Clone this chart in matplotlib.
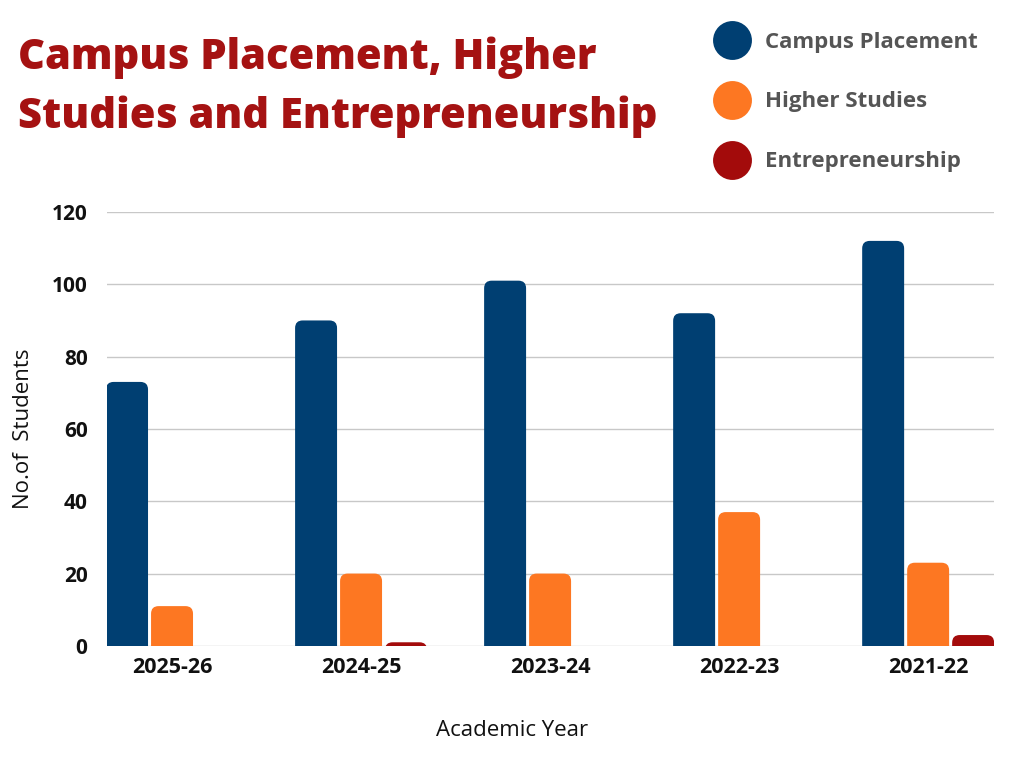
import numpy as np
import matplotlib.pyplot as plt
from matplotlib.patches import FancyBboxPatch
from matplotlib.lines import Line2D

years = ['2025-26', '2024-25', '2023-24', '2022-23', '2021-22']
campus = [73, 90, 101, 92, 112]
higher = [11, 20, 20, 37, 23]
entre = [0, 1, 0, 0, 3]

series = [('Campus Placement', campus, '#003f72'),
          ('Higher Studies', higher, '#fd7722'),
          ('Entrepreneurship', entre, '#a30b0b')]

plt.rcParams['font.family'] = ['Open Sans', 'DejaVu Sans']

fig = plt.figure(figsize=(10.24, 7.68), dpi=100)
ax = fig.add_axes([0.1045, 0.159, 0.8665, 0.565])

x = np.arange(len(years))
slot = 0.238
width = 0.222
ax.set_xlim(-0.344, 4.35)
ax.set_ylim(0, 120)

# px per data unit, used to keep the rounded corners circular
px_x = 0.8665 * 1024 / (4.35 + 0.344)
px_y = 0.565 * 768 / 120
r = 0.04
aspect = px_x / px_y

for i, (name, vals, col) in enumerate(series):
    for xi, v in zip(x, vals):
        if v <= 0:
            continue
        left = xi + (i - 1) * slot - width / 2
        bottom = -4
        p = FancyBboxPatch((left, bottom), width, v - bottom,
                           boxstyle='round,pad=0,rounding_size=%f' % r,
                           mutation_aspect=aspect, facecolor=col,
                           edgecolor='none', zorder=3)
        ax.add_patch(p)

ax.set_yticks(range(0, 121, 20))
ax.grid(axis='y', color='#c8c8c8', linewidth=1, zorder=0)
for s in ax.spines.values():
    s.set_visible(False)
ax.tick_params(length=0)
ax.set_xticks(x)
ax.set_xticklabels(years, fontsize=15.5, fontweight='bold', color='#111111')
for lab in ax.get_yticklabels():
    lab.set_fontsize(15)
    lab.set_fontweight('bold')
    lab.set_color('#111111')
ax.tick_params(axis='x', pad=8)
ax.tick_params(axis='y', pad=14)

ax.set_xlabel('Academic Year', fontsize=16, color='#111111')
ax.xaxis.set_label_coords(0.4566, -0.17)
ax.set_ylabel('No.of  Students', fontsize=16, color='#111111')
ax.yaxis.set_label_coords(-0.082, 0.5)

fig.text(0.018, 0.952, 'Campus Placement, Higher\nStudies and Entrepreneurship',
         fontsize=30, fontweight='extra bold', color='#a51212', va='top',
         linespacing=1.5)

handles = [Line2D([], [], marker='o', linestyle='none', markersize=28,
                  markerfacecolor=c, markeredgecolor='none') for _, _, c in series]
leg = fig.legend(handles, [n for n, _, _ in series], loc='upper left',
                 bbox_to_anchor=(0.679, 0.985), frameon=False,
                 labelspacing=1.75, handletextpad=0.72, handlelength=1.5,
                 prop={'size': 16, 'weight': 'bold'})
for t in leg.get_texts():
    t.set_color('#555555')

fig.savefig('out.png', dpi=100)
